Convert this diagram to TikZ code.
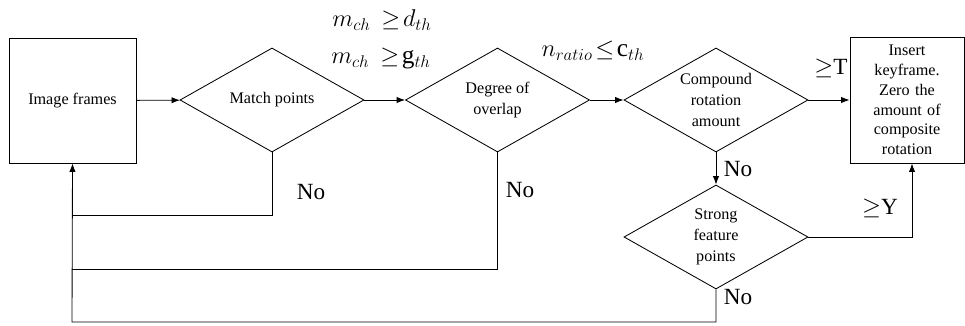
\documentclass[tikz,border=0pt]{standalone}
\usepackage{fontspec}
\setmainfont{Liberation Serif}
\usepackage{amsmath}
\usetikzlibrary{shapes.geometric,arrows.meta,positioning}
\tikzstyle{block}    = [rectangle, draw=black, line width=0.6pt, align=center, inner sep=1pt, font=\fontsize{11.5}{14}\selectfont]
\tikzstyle{decision} = [diamond, draw=black, line width=0.6pt, aspect=1.77, inner sep=0pt, minimum width=4.6cm, minimum height=2.6cm, align=center, font=\fontsize{11.5}{15}\selectfont]
\tikzstyle{arrow}    = [line width=0.6pt,-{Latex[length=6pt,width=4.5pt]}]
\tikzstyle{line}     = [line width=0.6pt]
\tikzstyle{lbl}      = [inner sep=0pt, font=\fontsize{16.5}{19}\selectfont]
\tikzstyle{mathlbl}  = [inner sep=0pt, font=\fontsize{18}{21}\selectfont]

\begin{document}
\begin{tikzpicture}[x=0.025cm,y=-0.025cm]
		\useasboundingbox (0,0) rectangle (965,326);
		% main row
		\node[block, minimum width=3.175cm, minimum height=3.125cm] (frames) at (72.5,100.5) {Image frames};
		\node[decision] (match) at (272,100) {Match points};
		\node[decision] (overlap) at (497.5,100) {Degree of\\overlap};
		\node[decision] (rotation) at (716,100) {Compound\\rotation\\amount};
		\node[block, minimum width=2.85cm, minimum height=3.15cm, text width=2.6cm] (keyframe) at (907,100) {Insert\\keyframe.\\Zero the\\amount of\\composite\\rotation};
		\node[decision] (strong) at (716,237) {Strong\\feature\\points};
		% return points
		\coordinate (backA) at (72,215);
		\coordinate (backB) at (72,269);
		\coordinate (backC) at (72,322);
		% connectors
		\draw[arrow] (frames) -- (match);
		\draw[arrow] (match) -- (overlap);
		\draw[arrow] (overlap) -- (rotation);
		\draw[arrow] (rotation) -- (keyframe);
		\draw[arrow] (rotation) -- (strong);
		\draw[arrow] (strong.east) -| ([xshift=0.125cm]keyframe.south);
		\draw[line] (match.south) |- (backA);
		\draw[line] (overlap.south) |- (backB);
		\draw[arrow] (strong.south) |- (backC) -- (frames.south);
		% labels
		\node[mathlbl] (condA) at (382,20) {$m_{ch}\,\geq\!d_{th}$};
		\node[mathlbl] (condB) at (381,59) {$m_{ch}\,\geq\!\mathrm{g}_{th}$};
		\node[mathlbl] (condC) at (593,51) {$n_{ratio}\!\leq\!\mathrm{c}_{th}$};
		\node[lbl] (geT) at (831,68) {$\geq$T};
		\node[lbl] (geY) at (880,208) {$\geq$Y};
		\node[lbl] (noA) at (311,192) {No};
		\node[lbl] (noB) at (520,190) {No};
		\node[lbl] (noC) at (738,169) {No};
		\node[lbl] (noD) at (738,297) {No};
	\end{tikzpicture}
\end{document}
